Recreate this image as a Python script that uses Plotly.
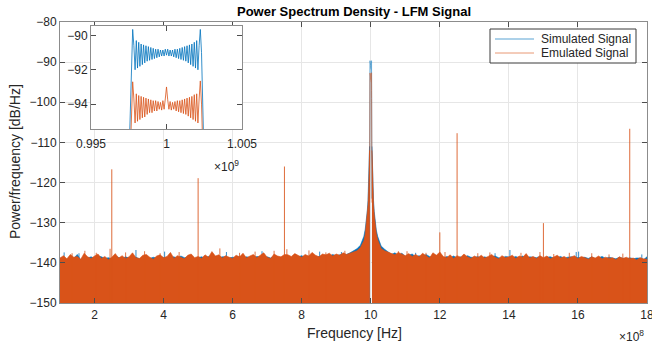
import numpy as np
import plotly.graph_objects as go

BLUE = "#0072BD"
ORANGE = "#D95319"

# ---------------- main spectrum data (frequency in units of 1e8 Hz, PSD in dB/Hz) ----------------
floor_left_f = np.round(np.arange(1.0, 9.45, 0.1), 2)      # 1.0 .. 9.4
floor_right_f = np.round(np.arange(10.6, 18.05, 0.1), 2)   # 10.6 .. 18.0

emu_floor_left = [
    -138.8, -138.2, -139.0, -137.9, -138.6, -138.4, -139.1, -137.6, -138.5, -138.9,
    -138.3, -137.8, -138.9, -138.4, -139.2, -138.6, -137.7, -138.8, -138.2, -139.0,
    -138.5, -137.5, -138.7, -138.9, -138.1, -137.9, -138.6, -139.1, -138.3, -138.0,
    -138.7, -138.4, -137.4, -138.9, -138.2, -138.6, -139.0, -138.1, -137.8, -138.7,
    -138.4, -138.9, -138.0, -138.6, -137.2, -138.3, -138.0, -138.8, -138.2, -138.6,
    -138.9, -138.1, -138.5, -137.6, -138.8, -138.3, -137.9, -138.7, -138.2, -137.5,
    -138.6, -138.9, -137.8, -138.3, -138.5, -137.9, -138.0, -138.4, -137.7, -138.2,
    -138.6, -137.9, -138.3, -137.4, -138.1, -138.5, -137.8, -138.0, -137.6, -138.3,
    -137.8, -138.1, -137.5, -137.9, -137.6,
]
sim_floor_left = [
    -138.9, -138.6, -139.2, -138.4, -138.9, -137.9, -139.3, -138.2, -138.8, -138.5,
    -138.9, -138.3, -138.5, -138.9, -138.7, -139.0, -138.4, -138.6, -138.9, -138.5,
    -138.8, -138.7, -138.6, -139.0, -138.6, -138.4, -138.9, -138.6, -138.8, -138.5,
    -138.7, -138.8, -138.6, -138.5, -138.9, -138.3, -138.7, -138.6, -138.5, -138.9,
    -138.7, -138.5, -138.8, -138.4, -138.6, -138.9, -138.7, -138.5, -138.5, -138.8,
    -138.6, -138.7, -138.4, -138.9, -138.5, -138.6, -138.8, -138.4, -138.6, -138.7,
    -138.5, -138.8, -138.3, -138.6, -138.7, -138.4, -138.5, -138.9, -138.3, -138.5,
    -138.2, -138.6, -138.4, -138.3, -138.7, -138.4, -138.5, -138.2, -138.4, -137.9,
    -138.3, -138.0, -137.9, -137.9, -137.5,
]
emu_floor_right = [
    -137.6, -138.0, -137.4, -137.9,
    -138.2, -137.7, -138.4, -137.9, -138.5, -137.6, -138.3, -138.8, -137.5, -138.1,
    -137.3, -138.4, -138.7, -138.0, -138.9, -138.2, -138.6, -137.8, -138.5, -138.9,
    -138.3, -138.7, -138.1, -138.8, -138.4, -137.9, -138.6, -139.0, -138.2, -138.7,
    -138.5, -138.1, -138.9, -138.3, -138.6, -137.7, -138.8, -138.4, -138.9, -138.2,
    -138.7, -138.3, -139.0, -138.5, -138.1, -138.8, -138.4, -138.9, -138.6, -138.2,
    -138.9, -138.4, -138.7, -139.1, -138.5, -138.8, -138.3, -139.0, -138.6, -138.9,
    -138.7, -139.2, -138.5, -138.9, -138.6, -139.0, -138.8, -139.3, -138.7, -139.0,
    -139.1,
]
sim_floor_right = [
    -137.9, -137.5, -138.2, -137.6,
    -138.4, -138.1, -137.8, -138.5, -138.2, -138.6, -137.9, -138.4, -138.7, -138.3,
    -138.6, -138.9, -138.4, -138.7, -138.3, -138.8, -138.5, -138.9, -138.2, -138.6,
    -138.7, -138.4, -138.9, -138.5, -138.8, -138.6, -138.3, -138.7, -138.9, -138.4,
    -138.6, -138.7, -138.4, -138.8, -138.3, -138.9, -138.5, -138.6, -138.7, -138.4,
    -138.9, -138.6, -138.5, -138.8, -138.7, -138.4, -138.9, -138.6, -138.5, -138.6,
    -138.7, -138.8, -138.6, -138.9, -138.5, -139.0, -138.7, -138.4, -138.9, -138.6,
    -138.8, -139.0, -138.6, -138.9, -139.1, -138.7, -139.0, -138.8, -138.8, -139.2,
    -138.5,
]

# thin noise spikes that poke above the floor
sim_spike_f = [1.12, 1.55, 3.2, 4.03, 5.82, 6.85, 8.52, 9.15, 11.3, 13.6, 14.03, 15.95, 16.02, 17.85]
sim_spike_db = [-137.4, -137.6, -136.8, -137.2, -137.3, -137.1, -137.2, -137.3, -137.5, -137.6, -136.8, -137.3, -137.2, -137.9]
emu_spike_f = [1.35, 1.72, 2.05, 2.45, 2.9, 3.45, 3.9, 4.45, 5.63, 6.2, 6.65, 7.2, 7.57, 8.21, 8.7, 9.25,
               10.8, 11.05, 11.6, 12.15, 13.1, 13.45, 14.35, 14.9, 15.3, 15.75, 16.4, 16.9, 17.3]
emu_spike_db = [-137.6, -137.0, -137.5, -136.5, -137.4, -137.1, -137.6, -137.3, -136.4, -137.5, -137.2, -137.0,
                -136.6, -136.9, -137.4, -137.0, -137.1, -137.1, -137.5, -137.3, -137.6, -137.4, -137.5, -137.3,
                -137.8, -137.5, -137.6, -137.9, -137.7]

# skirt of the carrier around 10 x 1e8 Hz
skirt_left_f = [9.5, 9.6, 9.7, 9.75, 9.8, 9.84, 9.87, 9.9, 9.92, 9.94, 9.95, 9.96, 9.965]
emu_skirt_left = [-137.3, -137.0, -136.2, -135.4, -134.5, -132.8, -130.6, -128.0, -125.5, -121.0, -118.0, -114.0, -112.0]
sim_skirt_left = [-137.0, -136.5, -135.6, -134.5, -133.4, -131.6, -129.6, -127.0, -124.5, -120.0, -117.0, -113.0, -111.0]
skirt_right_f = [10.035, 10.04, 10.05, 10.06, 10.08, 10.1, 10.13, 10.16, 10.2, 10.25, 10.3, 10.4, 10.5]
emu_skirt_right = [-112.0, -114.5, -118.0, -121.0, -125.5, -128.0, -130.8, -132.6, -134.2, -135.5, -136.4, -137.0, -137.4]
sim_skirt_right = [-111.0, -113.5, -117.0, -120.0, -124.5, -127.2, -129.8, -131.8, -133.4, -134.8, -135.8, -136.6, -137.2]

# spurious tones of the emulated signal
spur_f = [2.5, 5.0, 7.5, 12.0, 12.5, 15.0, 17.5]
spur_db = [-116.7, -118.9, -116.0, -132.4, -107.7, -130.1, -106.6]

# ---------------- inset (zoom on the LFM band, frequency in units of 1e9 Hz) ----------------
inset_f = np.linspace(0.99752, 1.00248, 63)
sim_band = [
    -97.0, -94.0, -91.0, -89.65, -90.6, -92.0, -90.3, -91.9, -90.4, -91.8,
    -90.5, -91.7, -90.55, -91.6, -90.6, -91.5, -90.65, -91.45, -90.7, -91.4,
    -90.75, -91.35, -90.8, -91.3, -90.8, -91.25, -90.85, -91.2, -90.85, -91.2,
    -90.8, -91.15, -90.8, -91.2, -90.85, -91.2, -90.85, -91.25, -90.8, -91.3,
    -90.8, -91.35, -90.75, -91.4, -90.7, -91.45, -90.65, -91.5, -90.6, -91.6,
    -90.55, -91.7, -90.5, -91.8, -90.4, -91.9, -90.3, -92.0, -90.6, -89.65,
    -91.0, -94.0, -97.0,
]
emu_band = [
    -99.0, -96.5, -94.0, -92.7, -93.7, -95.1, -93.4, -95.0, -93.5, -94.9,
    -93.55, -94.8, -93.6, -94.75, -93.65, -94.6, -93.7, -94.5, -93.75, -94.5,
    -93.8, -94.4, -93.8, -94.4, -93.85, -94.3, -93.9, -94.35, -93.8, -94.3,
    -93.7, -93.0, -93.75, -94.3, -93.85, -94.35, -93.9, -94.3, -93.85, -94.4,
    -93.8, -94.45, -93.8, -94.5, -93.75, -94.55, -93.7, -94.6, -93.65, -94.7,
    -93.6, -94.8, -93.55, -94.9, -93.45, -95.0, -93.4, -95.1, -93.7, -92.65,
    -94.0, -96.5, -99.0,
]

x_ticks = [2, 4, 6, 8, 10, 12, 14, 16, 18]
y_ticks = [-150, -140, -130, -120, -110, -100, -90, -80]
inset_x_range = [0.995, 1.005]
inset_y_range = [-95.45, -89.45]
inset_x_ticks = [0.995, 1.0, 1.005]
inset_x_text = ["0.995", "1", "1.005"]
inset_y_ticks = [-94, -92, -90]
series_names = ["Simulated Signal", "Emulated Signal"]

assert len(emu_floor_left) == len(floor_left_f) == len(sim_floor_left)
assert len(emu_floor_right) == len(floor_right_f) == len(sim_floor_right)
assert len(sim_band) == len(inset_f) == len(emu_band)
assert len(emu_spike_f) == len(emu_spike_db) and len(sim_spike_f) == len(sim_spike_db)

BASE = -160.0


def floor_polygon(segments):
    xs, ys = [], []
    for f, v in segments:
        f = list(f)
        v = list(v)
        xs += f + [f[-1], f[0], None]
        ys += v + [BASE, BASE, None]
    return xs, ys


def sticks(fs, ds):
    xs, ys = [], []
    for f, d in zip(fs, ds):
        xs += [f, f, None]
        ys += [BASE, d, None]
    return xs, ys


fig = go.Figure()

series = [
    (BLUE, sim_floor_left, sim_skirt_left, sim_skirt_right, sim_floor_right, sim_band, sim_spike_f, sim_spike_db, -124.0),
    (ORANGE, emu_floor_left, emu_skirt_left, emu_skirt_right, emu_floor_right, emu_band, emu_spike_f, emu_spike_db, -125.0),
]

for color, fl, sl, sr, fr, band, spf, spd, edge in series:
    xs, ys = floor_polygon([
        (list(floor_left_f) + skirt_left_f, fl + sl),
        (skirt_right_f + list(floor_right_f), sr + fr),
    ])
    fig.add_trace(go.Scatter(x=xs, y=ys, mode="lines", fill="toself", fillcolor=color,
                             line=dict(color=color, width=0.6), showlegend=False, hoverinfo="skip"))
    kx, ky = sticks(spf, spd)
    fig.add_trace(go.Scatter(x=kx, y=ky, mode="lines", line=dict(color=color, width=1),
                             opacity=0.8, showlegend=False, hoverinfo="skip"))
    fig.add_trace(go.Scatter(x=[skirt_left_f[-1]] + list(inset_f * 10) + [skirt_right_f[0]],
                             y=[edge] + band + [edge], mode="lines",
                             line=dict(color=color, width=1), opacity=0.6, showlegend=False))

sx, sy = sticks(spur_f, spur_db)
fig.add_trace(go.Scatter(x=sx, y=sy, mode="lines", line=dict(color=ORANGE, width=1),
                         opacity=0.85, showlegend=False))

# inset: white background, then the two band curves
fig.add_trace(go.Scatter(x=[inset_x_range[0], inset_x_range[1], inset_x_range[1], inset_x_range[0], inset_x_range[0]],
                         y=[inset_y_range[0], inset_y_range[0], inset_y_range[1], inset_y_range[1], inset_y_range[0]],
                         mode="lines", fill="toself", fillcolor="white", line=dict(width=0),
                         xaxis="x2", yaxis="y2", showlegend=False, hoverinfo="skip"))
fig.add_trace(go.Scatter(x=inset_f, y=sim_band, mode="lines", line=dict(color=BLUE, width=0.8),
                         xaxis="x2", yaxis="y2", showlegend=False))
fig.add_trace(go.Scatter(x=inset_f, y=emu_band, mode="lines", line=dict(color=ORANGE, width=0.8),
                         xaxis="x2", yaxis="y2", showlegend=False))

L, R, T, B = 60, 5, 22, 43
W, H = 652 - L - R, 346 - T - B


def px(x):
    return (x - L) / W


def py(y):
    return (346 - B - y) / H


axis_common = dict(ticks="inside", ticklen=5, tickcolor="#4d4d4d", showline=True, linecolor="#8c8c8c",
                   linewidth=1, mirror="ticks", zeroline=False, automargin=False,
                   ticklabeloverflow="allow", tickfont=dict(size=12, color="#262626"))


def label(text, x, y, size=12, xanchor="center", **kw):
    return dict(text=text, xref="paper", yref="paper", x=px(x), y=py(y), xanchor=xanchor,
                yanchor="middle", showarrow=False, font=dict(size=size, color=kw.pop("color", "#262626")), **kw)


# manual legend (MATLAB-style compact box)
legend_shapes = [
    dict(type="rect", xref="paper", yref="paper", x0=px(490), x1=px(636), y0=py(63), y1=py(29),
         fillcolor="white", line=dict(color="#3a3a3a", width=1), layer="above"),
    dict(type="line", xref="paper", yref="paper", x0=px(495), x1=px(534), y0=py(39), y1=py(39),
         line=dict(color="rgba(0,114,189,0.65)", width=1), layer="above"),
    dict(type="line", xref="paper", yref="paper", x0=px(495), x1=px(534), y0=py(53), y1=py(53),
         line=dict(color="rgba(217,83,25,0.6)", width=1), layer="above"),
]

fig.update_layout(
    width=652, height=346,
    margin=dict(l=L, r=R, t=T, b=B, autoexpand=False),
    paper_bgcolor="white", plot_bgcolor="white",
    font=dict(family="Liberation Sans, Arial, sans-serif", color="#262626"),
    showlegend=False,
    xaxis=dict(range=[1, 18], tickvals=x_ticks, showgrid=True, gridcolor="#e6e6e6",
               ticklabelstandoff=1, **axis_common),
    yaxis=dict(range=[-150, -80], tickvals=y_ticks, showgrid=True, gridcolor="#e6e6e6", **axis_common),
    xaxis2=dict(domain=[px(91), px(242)], anchor="y2", range=inset_x_range, tickvals=inset_x_ticks,
                ticktext=inset_x_text, showgrid=False, ticklabelstandoff=4, **axis_common),
    yaxis2=dict(domain=[py(129), py(26)], anchor="x2", range=inset_y_range, tickvals=inset_y_ticks,
                showgrid=False, **axis_common),
    shapes=legend_shapes,
    annotations=[
        label("<b>Power Spectrum Density - LFM Signal</b>", 354, 11, size=13, color="#000000"),
        label("Frequency [Hz]", 355, 333, size=14),
        label("Power/frequency [dB/Hz]", 15, 162, size=14, textangle=-90),
        label("×10<sup>8</sup>", 631, 336),
        label("×10<sup>9</sup>", 226, 166),
        label(series_names[0], 539, 39, xanchor="left"),
        label(series_names[1], 539, 53, xanchor="left"),
    ],
)

fig.write_html("out.html")
